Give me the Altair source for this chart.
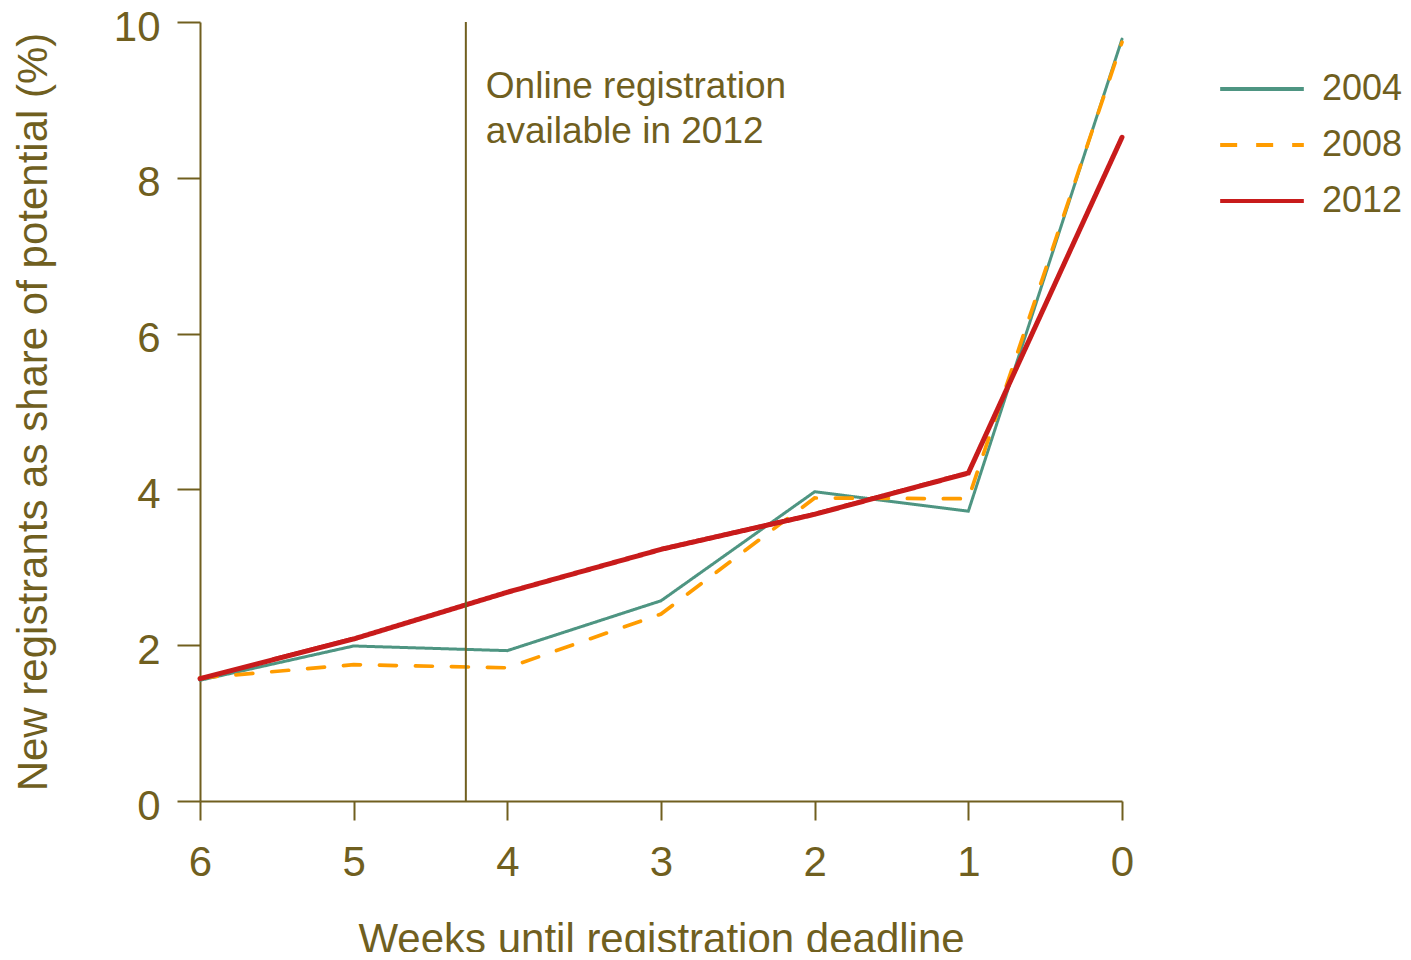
import altair as alt
import pandas as pd

weeks = [6, 5, 4, 3, 2, 1, 0]
years = ["2004", "2008", "2012"]
v2004 = [1.55, 1.99, 1.93, 2.57, 3.97, 3.72, 9.78]
v2008 = [1.58, 1.75, 1.71, 2.40, 3.89, 3.88, 9.74]
v2012 = [1.57, 2.08, 2.68, 3.23, 3.68, 4.21, 8.52]
online_week = [4.27]
note_text = ["Online registration\navailable in 2012"]
note_y = [9.03]

OLIVE = "#705f1f"
FONT = "Liberation Sans"
COLORS = ["#4e9582", "#ff9c00", "#c81b1b"]
DASHES = [[1, 0], [17, 19], [1, 0]]
WIDTHS = [3, 3.7, 5]

rows = []
for yr, vals in zip(years, [v2004, v2008, v2012]):
    for w, v in zip(weeks, vals):
        rows.append({"week": w, "value": v, "year": yr})
df = pd.DataFrame(rows)

xscale = alt.Scale(domain=[0, 6], reverse=True, nice=False)
yscale = alt.Scale(domain=[0, 10], nice=False)

legend_cfg = alt.Legend(title=None, orient="none", legendX=1018, legendY=40,
                        symbolType="stroke", symbolSize=7000, symbolStrokeWidth=4,
                        labelFontSize=36, labelColor=OLIVE, labelFont=FONT, labelOffset=16,
                        rowPadding=2, clipHeight=54, padding=0)

x_enc = alt.X("week:Q", scale=xscale,
              axis=alt.Axis(values=weeks, format="d", title="Weeks until registration deadline",
                            tickSize=19, labelPadding=22, titlePadding=36, grid=False,
                            labelFlush=False))
y_enc = alt.Y("value:Q", scale=yscale,
              axis=alt.Axis(values=[0, 2, 4, 6, 8, 10], format="d",
                            title="New registrants as share of potential (%)",
                            tickSize=23, labelPadding=17, titlePadding=58, grid=False,
                            labelFlush=False, labelOffset=5))
color_enc = alt.Color("year:N", scale=alt.Scale(domain=years, range=COLORS), legend=legend_cfg)
dash_enc = alt.StrokeDash("year:N", scale=alt.Scale(domain=years, range=DASHES), legend=legend_cfg)

line_layers = []
for yr, sw in zip(years, WIDTHS):
    line_layers.append(
        alt.Chart(df).transform_filter(alt.datum.year == yr)
        .mark_line(strokeWidth=sw, strokeCap="round", strokeJoin="miter")
        .encode(x=x_enc, y=y_enc, color=color_enc, strokeDash=dash_enc)
    )

rule_df = pd.DataFrame({"week": online_week})
rule = alt.Chart(rule_df).mark_rule(color=OLIVE, strokeWidth=2).encode(
    x=alt.X("week:Q", scale=xscale),
)

note_df = pd.DataFrame({"week": online_week, "value": note_y, "text": note_text})
note = alt.Chart(note_df).mark_text(align="left", baseline="alphabetic", dx=20, fontSize=37,
                                    font=FONT, color=OLIVE, lineBreak="\n", lineHeight=45).encode(
    x=alt.X("week:Q", scale=xscale),
    y=alt.Y("value:Q", scale=yscale),
    text="text:N",
)

chart = alt.layer(*line_layers, rule, note).properties(
    width=922, height=779,
    autosize=alt.AutoSizeParams(type="none"),
    padding={"left": 192, "top": 14, "right": 281, "bottom": 151},
).configure_view(stroke=None).configure_axis(
    domainColor=OLIVE, domainWidth=2, tickColor=OLIVE, tickWidth=2,
    labelColor=OLIVE, titleColor=OLIVE, labelFont=FONT, titleFont=FONT,
    labelFontSize=42, titleFontSize=42, titleFontWeight="normal",
)

chart.save("out.html", embed_options={"renderer": "svg", "actions": False})
